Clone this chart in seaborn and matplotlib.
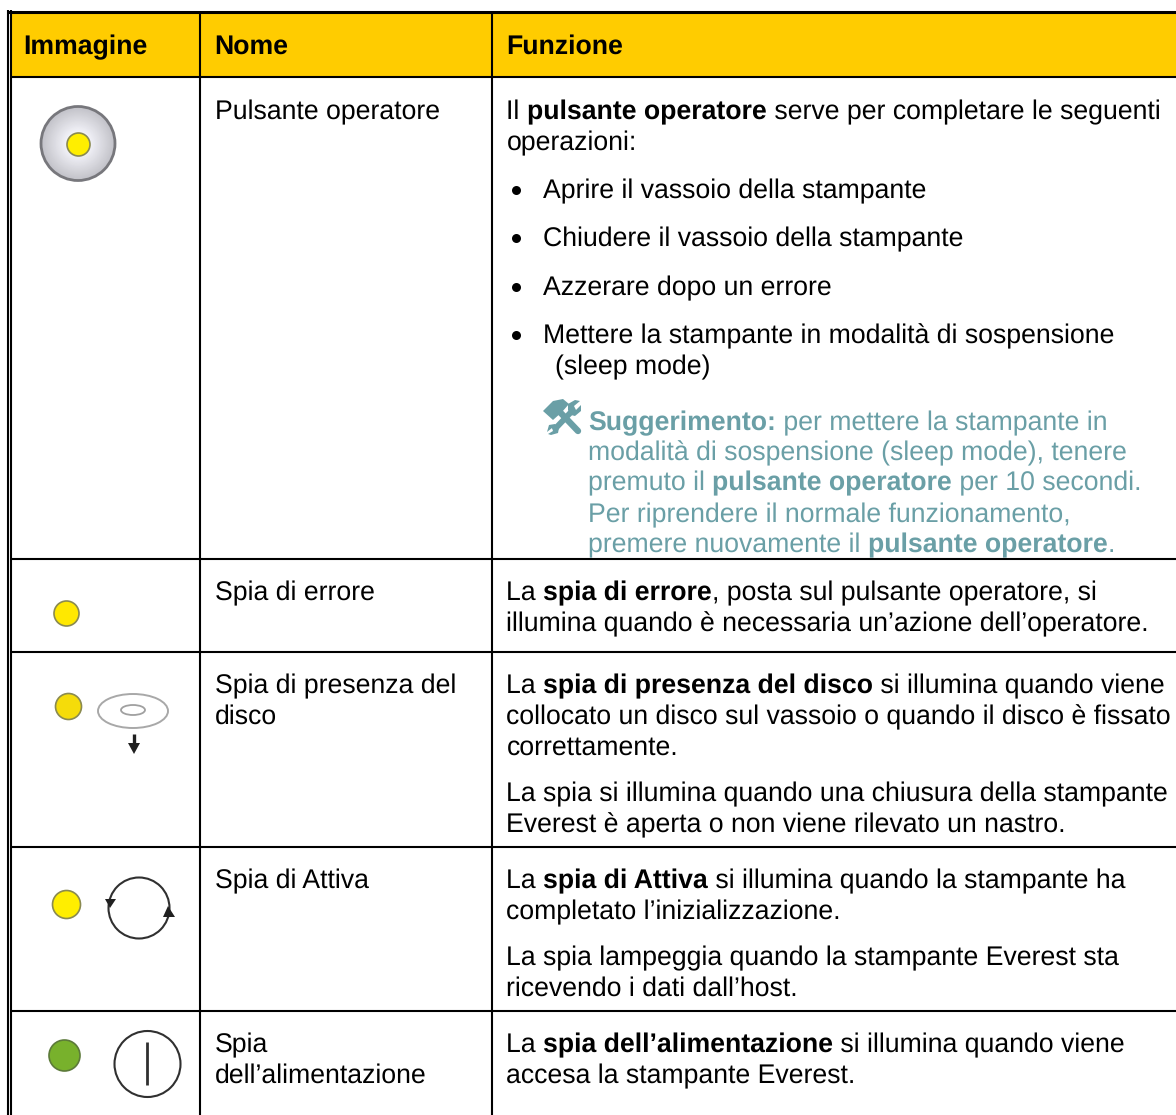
import matplotlib
matplotlib.use("Agg")
import matplotlib.pyplot as plt
from matplotlib.patches import Circle, Ellipse, Polygon, Rectangle
import pandas as pd
import seaborn as sns

# Contenuto della tabella
headers = ["Immagine", "Nome", "Funzione"]
names = ["Pulsante operatore", "Spia di errore", "Spia di presenza del", "disco",
         "Spia di Attiva", "Spia", "dell’alimentazione"]
pulsante_lines = ["Il **pulsante operatore** serve per completare le seguenti", "operazioni:"]
bullets = ["Aprire il vassoio della stampante", "Chiudere il vassoio della stampante",
           "Azzerare dopo un errore", "Mettere la stampante in modalità di sospensione"]
bullet_tail = "(sleep mode)"
tip_lines = ["**Suggerimento:** per mettere la stampante in",
             "modalità di sospensione (sleep mode), tenere",
             "premuto il **pulsante operatore** per 10 secondi.",
             "Per riprendere il normale funzionamento,",
             "premere nuovamente il **pulsante operatore**."]
other_lines = ["La **spia di errore**, posta sul pulsante operatore, si",
               "illumina quando è necessaria un’azione dell’operatore.",
               "La **spia di presenza del disco** si illumina quando viene",
               "collocato un disco sul vassoio o quando il disco è fissato",
               "correttamente.",
               "La spia si illumina quando una chiusura della stampante",
               "Everest è aperta o non viene rilevato un nastro.",
               "La **spia di Attiva** si illumina quando la stampante ha",
               "completato l’inizializzazione.",
               "La spia lampeggia quando la stampante Everest sta",
               "ricevendo i dati dall’host.",
               "La **spia dell’alimentazione** si illumina quando viene",
               "accesa la stampante Everest."]
led_names = ["pulsante", "errore", "disco", "attiva", "alimentazione"]
led_colors = ["#FFEE00", "#FFE800", "#F5DC0A", "#FFEE00", "#78B12C"]

# Layout in pixel
W, H = 1176, 1115
FS = 19.2
TEAL = "#6A9FA6"
col_x = [200, 492]
row_y = [76.5, 558.5, 651.5, 846.5, 1010.5]
name_base = [119, 600, 693, 724, 888, 1052, 1083]
pulsante_base = [119, 150]
bullet_base = [198, 246, 295, 343]
tip_base = [430, 460, 490, 522, 552]
other_base = [600, 631, 693, 724, 755, 801, 832, 888, 919, 965, 996, 1052, 1083]
led_x = [78, 66, 68, 66, 63.5]
led_y = [143.5, 612.5, 705.5, 904, 1054.5]
led_r = [11.5, 12.5, 13, 14, 15.5]

sns.set_theme(style="white")
plt.rcParams["font.family"] = ["Liberation Sans", "DejaVu Sans"]
plt.rcParams["text.hinting"] = "none"

fig, ax = plt.subplots(figsize=(W / 100, H / 100), dpi=100)
ax.set_position([0, 0, 1, 1])
ax.set_xlim(0, W)
ax.set_ylim(H, 0)
ax.axis("off")
renderer = fig.canvas.get_renderer()


def rich_text(x, y, line, color="black"):
    # alterna normale e grassetto sui marcatori **
    for i, part in enumerate(line.split("**")):
        if not part:
            continue
        t = ax.text(x, y, part, fontsize=FS, color=color, va="baseline", ha="left",
                    fontweight="bold" if i % 2 else "normal", zorder=3)
        x += t.get_window_extent(renderer).width


# Intestazione
ax.add_patch(Rectangle((12, 13), W - 12, 63, color="#FFCC00", lw=0, zorder=1))
for x, label in zip([23.3, 214.6, 506.3], headers):
    ax.text(x, 54, label, fontsize=FS, fontweight="bold", color="black", va="baseline", zorder=3)

# Griglia
ax.hlines(11.5, 7, W, color="black", lw=2.2, zorder=4)
ax.hlines(row_y, 10, W, color="black", lw=1.5, zorder=4)
ax.vlines([8, 11], 10, H, color="black", lw=1.5, zorder=4)
ax.vlines(col_x, 11, H, color="black", lw=1.5, zorder=4)

# Testi
for y, line in zip(name_base, names):
    rich_text(215, y, line)
for y, line in zip(pulsante_base, pulsante_lines):
    rich_text(506.4, y, line)
sns.scatterplot(x=[516] * len(bullet_base), y=[y - 8.5 for y in bullet_base], s=(9 * 0.72) ** 2,
                color="black", linewidth=0, ax=ax, zorder=3, legend=False)
for y, line in zip(bullet_base, bullets):
    rich_text(543, y, line)
rich_text(555, 374, bullet_tail)
for y, line in zip(tip_base, tip_lines):
    rich_text(588, y, line, color=TEAL)
for y, line in zip(other_base, other_lines):
    rich_text(506.4, y, line)

# Pulsante: sfumatura radiale
steps = 24
for i in range(steps):
    f = i / (steps - 1)
    g = 0.76 + 0.20 * f
    ax.add_patch(Circle((78, 143.5), 37 - 26 * f, color=(g, g, min(g + 0.025, 1)), lw=0, zorder=1))
ax.add_patch(Circle((78, 143.5), 37, fill=False, ec="#77777C", lw=2.0, zorder=2))

# Spie
leds = pd.DataFrame({"x": led_x, "y": led_y, "nome": led_names})
sizes = [(2 * r * 0.72) ** 2 for r in led_r]
for (_, row), s, c in zip(leds.iterrows(), sizes, led_colors):
    sns.scatterplot(x=[row["x"]], y=[row["y"]], s=s, color=c, edgecolor="#8A8A50" if c != "#78B12C" else "#5C7A3A",
                    linewidth=1.2, ax=ax, zorder=3, legend=False)
ax.set_xlim(0, W)
ax.set_ylim(H, 0)

# Icona disco
ax.add_patch(Ellipse((133, 711), 70, 34, fill=False, ec="#A8A8A8", lw=1.4, zorder=3))
ax.add_patch(Ellipse((133, 710), 24, 10, fill=False, ec="#A0A0A0", lw=1.3, zorder=3))
ax.vlines(134, 734, 748, color="#202020", lw=2.4, zorder=3)
ax.add_patch(Polygon([(128, 743), (140, 743), (134, 754)], color="#202020", lw=0, zorder=3))

# Icona attiva
ax.add_patch(Circle((139, 908), 30.5, fill=False, ec="#303030", lw=1.5, zorder=3))
ax.add_patch(Polygon([(105, 899), (116, 899), (110, 908)], color="#202020", lw=0, zorder=3))
ax.add_patch(Polygon([(163, 917), (175, 917), (168, 906)], color="#202020", lw=0, zorder=3))

# Icona alimentazione
ax.add_patch(Circle((147.5, 1064), 33, fill=False, ec="#303030", lw=1.5, zorder=3))
ax.vlines(147, 1042, 1085, color="#303030", lw=2.0, zorder=3)

# Icona martello e chiave
ax.plot([556, 578], [408, 431], color=TEAL, lw=4.6, solid_capstyle="round", zorder=3)
ax.add_patch(Polygon([(543, 411), (553, 401), (563, 399), (569, 404), (562, 412), (553, 420)],
                     color=TEAL, lw=0, zorder=3))
ax.plot([573, 554], [410, 430], color=TEAL, lw=4.2, solid_capstyle="butt", zorder=3)
ax.add_patch(Polygon([(568, 410), (568, 404), (575, 400), (580, 401), (574, 406), (576, 410), (581, 405),
                      (581, 411), (575, 416), (571, 415)], color=TEAL, lw=0, zorder=3))
ax.add_patch(Polygon([(549, 425), (555, 424), (559, 428), (558, 433), (551, 435), (548, 434), (553, 431),
                      (552, 428), (547, 432)], color=TEAL, lw=0, zorder=3))

fig.savefig("out.png", dpi=100, facecolor="white")
